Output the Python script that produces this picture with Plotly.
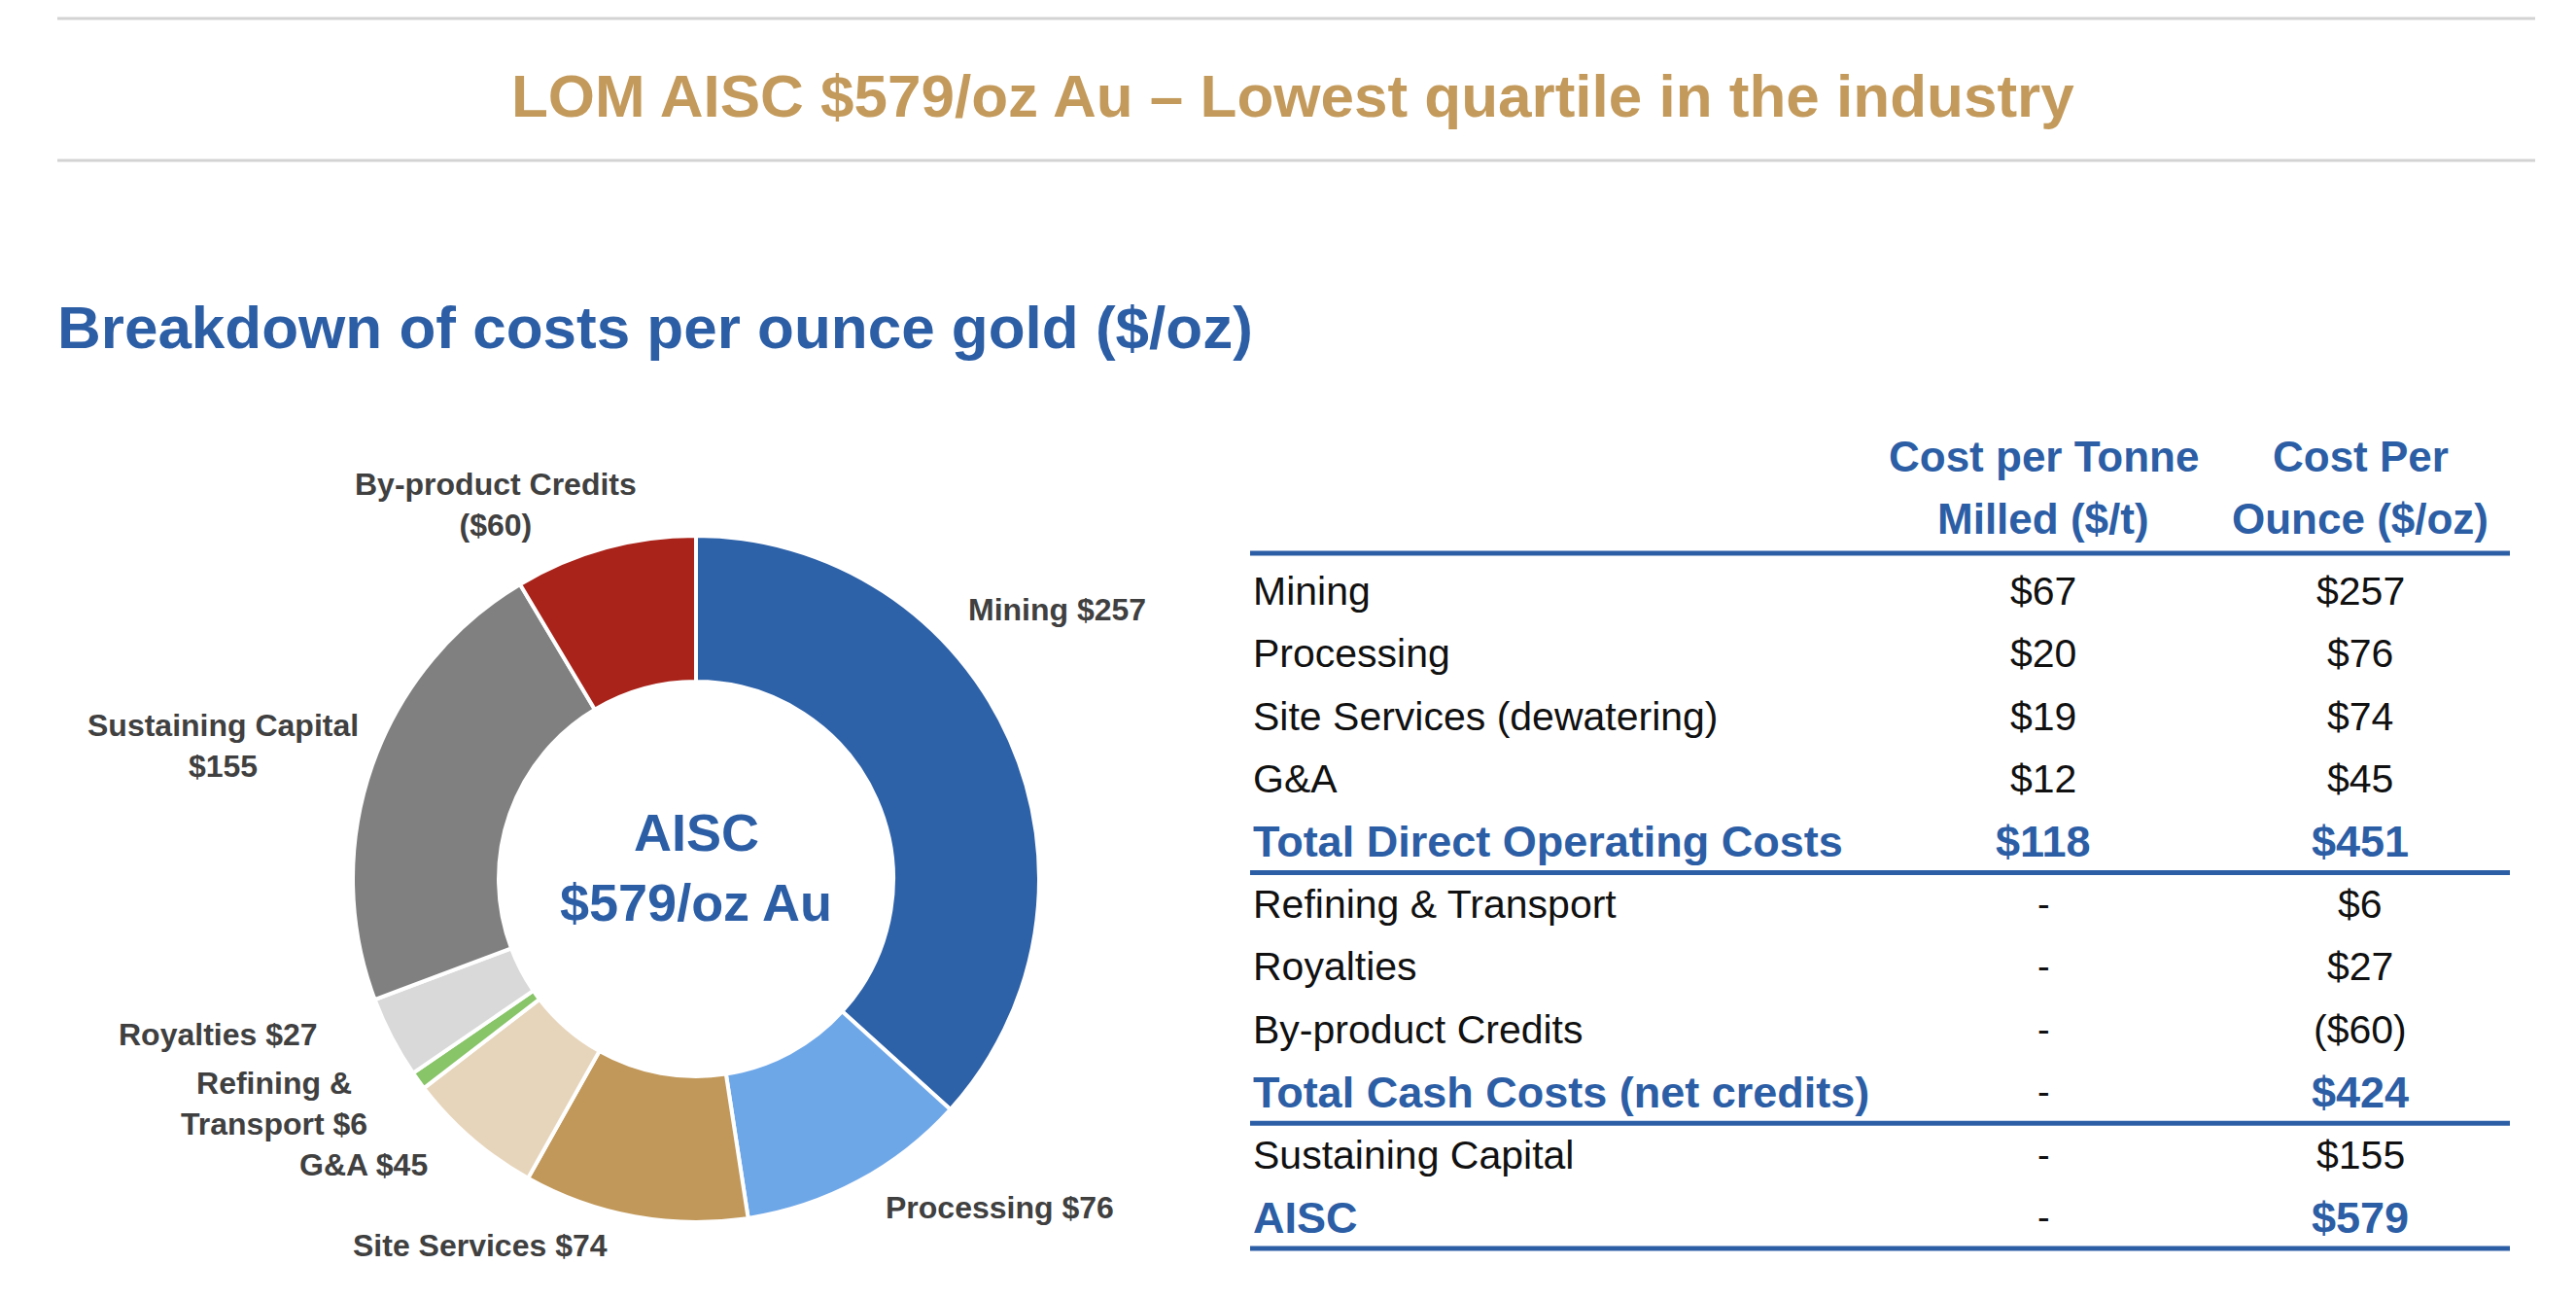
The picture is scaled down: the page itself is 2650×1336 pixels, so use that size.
import plotly.graph_objects as go

W, H = 2650, 1336

# donut data (clockwise from 12 o'clock)
cost_names = ["Mining", "Processing", "Site Services", "G&A", "Refining & Transport",
              "Royalties", "Sustaining Capital", "By-product Credits"]
cost_per_oz = [257, 76, 74, 45, 6, 27, 155, 60]
slice_colors = ["#2D61A8", "#6EA7E8", "#C1985A", "#E7D5BB", "#88C468",
                "#D9D9D9", "#808080", "#A9231A"]
donut_labels = ["Mining $257", "Processing $76", "Site Services $74", "G&A $45",
                "Refining &<br>Transport $6", "Royalties $27", "Sustaining Capital<br>$155",
                "By-product Credits<br>($60)"]

# table data
row_labels = ["Mining", "Processing", "Site Services (dewatering)", "G&A",
              "Total Direct Operating Costs", "Refining & Transport", "Royalties",
              "By-product Credits", "Total Cash Costs (net credits)", "Sustaining Capital", "AISC"]
per_tonne = ["$67", "$20", "$19", "$12", "$118", "-", "-", "-", "-", "-", "-"]
per_ounce = ["$257", "$76", "$74", "$45", "$451", "$6", "$27", "($60)", "$424", "$155", "$579"]
total_rows = [4, 8, 10]
header_tonne = ["Cost per Tonne", "Milled ($/t)"]
header_ounce = ["Cost Per", "Ounce ($/oz)"]

TITLE = "LOM AISC $579/oz Au \u2013 Lowest quartile in the industry"
SUBTITLE = "Breakdown of costs per ounce gold ($/oz)"
CENTER = ["AISC", "$579/oz Au"]

GOLD = "#C39A5B"
BLUE = "#2C5EA6"
LABEL_GREY = "#404040"
FONT = "Liberation Sans, Arial, sans-serif"


def px(x):
    return x / W


def py(y):
    return 1 - y / H


fig = go.Figure()

# donut: centre (716, 904), radius 353 px
cx, cy, r = 716, 904, 353
fig.add_trace(go.Pie(
    labels=cost_names, values=cost_per_oz, sort=False, direction="clockwise",
    rotation=0, hole=0.575, textinfo="none", hoverinfo="label+value",
    marker=dict(colors=slice_colors, line=dict(color="white", width=4)),
    domain=dict(x=[px(cx - r), px(cx + r)], y=[py(cy + r), py(cy - r)]),
    showlegend=False,
))

ann = []
shapes = []

# header rules
for yy in (19, 165):
    shapes.append(dict(type="line", xref="paper", yref="paper", x0=px(59), x1=px(2608),
                       y0=py(yy), y1=py(yy), line=dict(color="#D3D3D3", width=3)))

ann.append(dict(text=TITLE, x=px(1330), y=py(98), showarrow=False, xanchor="center",
                yanchor="middle", font=dict(family=FONT, size=62, color=GOLD, weight="bold")))
ann.append(dict(text=SUBTITLE, x=px(57), y=py(336), showarrow=False, xanchor="left",
                yanchor="middle", font=dict(family=FONT, size=62, color=BLUE, weight="bold")))

# centre text of donut
for txt, yy in zip(CENTER, (856, 928)):
    ann.append(dict(text=txt, x=px(cx), y=py(yy), showarrow=False, xanchor="center",
                    yanchor="middle", font=dict(family=FONT, size=54, color=BLUE, weight="bold")))

# slice labels (x, y, anchor)
label_pos = [(994, 627, "left"), (1028, 1242, "center"), (494, 1281, "center"),
             (374, 1198, "center"), (282, 1135, "center"), (224, 1064, "center"),
             (229, 767, "center"), (510, 519, "center")]
for txt, (lx, ly, anc) in zip(donut_labels, label_pos):
    ann.append(dict(text=txt, x=px(lx), y=py(ly), showarrow=False, xanchor=anc,
                    yanchor="middle", align="center",
                    font=dict(family=FONT, size=32, color=LABEL_GREY, weight="bold")))

# table
col_label_x, col_tonne_x, col_ounce_x = 1287, 2102, 2428
for txt, yy in zip(header_tonne, (469, 533)):
    ann.append(dict(text=txt, x=px(col_tonne_x), y=py(yy), showarrow=False, xanchor="center",
                    yanchor="middle", font=dict(family=FONT, size=44, color=BLUE, weight="bold")))
for txt, yy in zip(header_ounce, (469, 533)):
    ann.append(dict(text=txt, x=px(col_ounce_x), y=py(yy), showarrow=False, xanchor="center",
                    yanchor="middle", font=dict(family=FONT, size=44, color=BLUE, weight="bold")))

row0, step = 608, 64.4
for i, (lab, t, o) in enumerate(zip(row_labels, per_tonne, per_ounce)):
    yy = row0 + i * step
    bold = i in total_rows
    f = dict(family=FONT, size=45 if bold else 41, color=BLUE if bold else "#111111",
             weight="bold" if bold else "normal")
    ann.append(dict(text=lab, x=px(col_label_x), y=py(yy), showarrow=False, xanchor="left",
                    yanchor="middle", font=f))
    ft = f if t != "-" else dict(family=FONT, size=38, color="#111111")
    ann.append(dict(text=t, x=px(col_tonne_x), y=py(yy), showarrow=False, xanchor="center",
                    yanchor="middle", font=ft))
    ann.append(dict(text=o, x=px(col_ounce_x), y=py(yy), showarrow=False, xanchor="center",
                    yanchor="middle", font=f))

rule_ys = [569] + [row0 + i * step + 32 for i in total_rows]
for yy in rule_ys:
    shapes.append(dict(type="line", xref="paper", yref="paper", x0=px(1286), x1=px(2582),
                       y0=py(yy), y1=py(yy), line=dict(color=BLUE, width=5)))

fig.update_layout(
    width=W, height=H, margin=dict(l=0, r=0, t=0, b=0),
    paper_bgcolor="white", plot_bgcolor="white",
    annotations=ann, shapes=shapes,
)

fig.write_html("out.html", config={"displayModeBar": False},
               post_script="document.body.style.margin = '0';")
